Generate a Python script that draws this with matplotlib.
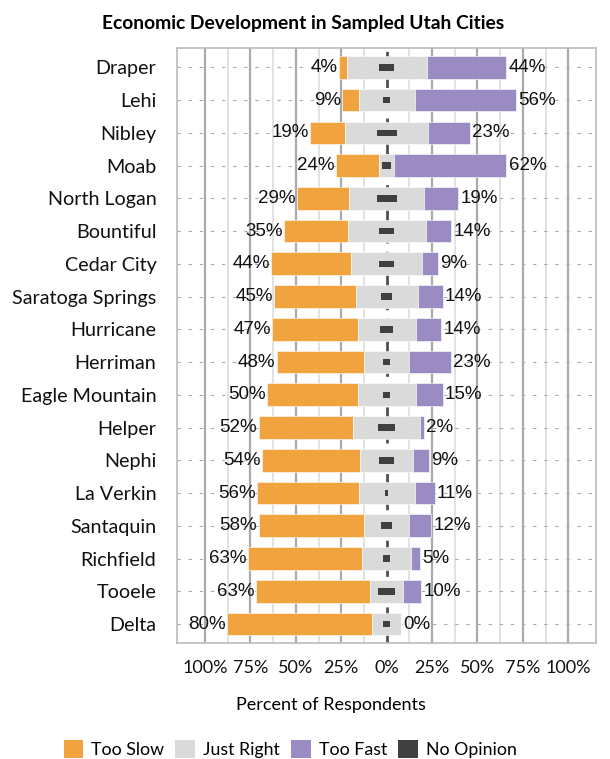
"""Diverging stacked bar chart of opinions on economic development in Utah cities."""

import matplotlib.pyplot as plt
from matplotlib.patches import Patch


CITIES = [
    "Draper", "Lehi", "Nibley", "Moab", "North Logan", "Bountiful",
    "Cedar City", "Saratoga Springs", "Hurricane", "Herriman",
    "Eagle Mountain", "Helper", "Nephi", "La Verkin", "Santaquin",
    "Richfield", "Tooele", "Delta",
]

TOO_SLOW = [4, 9, 19, 24, 29, 35, 44, 45, 47, 48, 50, 52, 54, 56, 58, 63, 63, 80]
JUST_RIGHT = [44, 31, 46, 8, 41, 43, 39, 34, 32, 25, 32, 37, 29, 31, 25, 27, 18, 16]
TOO_FAST = [44, 56, 23, 62, 19, 14, 9, 14, 14, 23, 15, 2, 9, 11, 12, 5, 10, 0]
NO_OPINION = [8, 4, 11, 5, 11, 8, 8, 6, 7, 4, 4, 9, 8, 2, 6, 4, 9, 4]

TICKS = [-100, -75, -50, -25, 0, 25, 50, 75, 100]

COLORS = {
    "Too Slow": "#F0A33F",
    "Just Right": "#DADADA",
    "Too Fast": "#9A8CC3",
    "No Opinion": "#404040",
}

TEXT_FONT = "Lato"
NUMBER_FONT = "Liberation Sans"


def draw_grid(ax):
    """Excel style grid: dark major lines, light minor lines, dashed zero."""

    for value in range(-100, 101, 25):
        if value == 0:
            continue
        ax.axvline(value, color="#AAAAAA", linewidth=1.6, zorder=0)

    for value in range(-875, 876, 250):
        ax.axvline(value / 10, color="#DDDDDD", linewidth=1.2, zorder=0)

    ax.axvline(0, color="#505050", linewidth=2.0, linestyle=(0, (5, 3)), zorder=0.5)

    for row in range(len(CITIES)):
        ax.axhline(row, color="#AAAAAA", linewidth=0.8,
                   linestyle=(0, (3, 7)), zorder=0)


def draw_bars(ax):
    """Center Just Right on zero and stack the other answers on either side."""

    rows = list(range(len(CITIES)))
    left_edge = [-j / 2 for j in JUST_RIGHT]
    right_edge = [j / 2 for j in JUST_RIGHT]
    slow_start = [l - s for l, s in zip(left_edge, TOO_SLOW)]

    ax.barh(rows, TOO_SLOW, left=slow_start, height=0.69,
            color=COLORS["Too Slow"], edgecolor="white", linewidth=0.4, zorder=2)
    ax.barh(rows, JUST_RIGHT, left=left_edge, height=0.69,
            color=COLORS["Just Right"], edgecolor="white", linewidth=0.4, zorder=2)
    ax.barh(rows, TOO_FAST, left=right_edge, height=0.69,
            color=COLORS["Too Fast"], edgecolor="white", linewidth=0.4, zorder=2)
    ax.barh(rows, NO_OPINION, left=[-n / 2 for n in NO_OPINION], height=0.2,
            color=COLORS["No Opinion"], linewidth=0, zorder=3)

    for row in rows:
        ax.annotate(
            f"{TOO_SLOW[row]}%",
            (slow_start[row], row),
            xytext=(-1, 0),
            textcoords="offset points",
            ha="right",
            va="center",
            fontsize=13.5,
            family=NUMBER_FONT,
            color="#111111",
            zorder=4,
        )
        ax.annotate(
            f"{TOO_FAST[row]}%",
            (right_edge[row] + TOO_FAST[row], row),
            xytext=(1.5, 0),
            textcoords="offset points",
            ha="left",
            va="center",
            fontsize=13.5,
            family=NUMBER_FONT,
            color="#111111",
            zorder=4,
        )


def main():
    fig = plt.figure(figsize=(6.1, 7.59), dpi=100)
    ax = fig.add_axes([0.2907, 0.1524, 0.6863, 0.7848])

    draw_grid(ax)
    draw_bars(ax)

    ax.set_xlim(-115.3, 115.3)
    ax.set_ylim(len(CITIES) - 0.41, -0.6)

    ax.set_xticks(TICKS)
    ax.set_xticklabels([f"{abs(t)}%" for t in TICKS],
                       family=TEXT_FONT, fontsize=13)
    ax.set_yticks(range(len(CITIES)))
    ax.set_yticklabels(CITIES, family=TEXT_FONT, fontsize=14.2)
    ax.tick_params(axis="both", length=0, colors="#111111")
    ax.tick_params(axis="y", pad=15)
    ax.tick_params(axis="x", pad=12)

    for spine in ax.spines.values():
        spine.set_color("#BBBBBB")
        spine.set_linewidth(1.2)

    fig.text(0.497, 1 - 24 / 759, "Economic Development in Sampled Utah Cities",
             ha="center", va="center", fontsize=13.9, fontweight="bold",
             family=TEXT_FONT)
    fig.text(331 / 610, 1 - 705 / 759, "Percent of Respondents",
             ha="center", va="center", fontsize=13, family=TEXT_FONT)

    handles = [Patch(facecolor=color, label=name) for name, color in COLORS.items()]
    fig.legend(
        handles=handles,
        loc="center",
        bbox_to_anchor=(290 / 610, 1 - 749 / 759),
        ncol=4,
        frameon=False,
        prop={"family": TEXT_FONT, "size": 12.8},
        handlelength=1.12,
        handleheight=1.2,
        handletextpad=0.45,
        columnspacing=0.6,
        borderpad=0,
    )

    fig.savefig("out.png", dpi=100)
    plt.close(fig)


if __name__ == "__main__":
    main()
